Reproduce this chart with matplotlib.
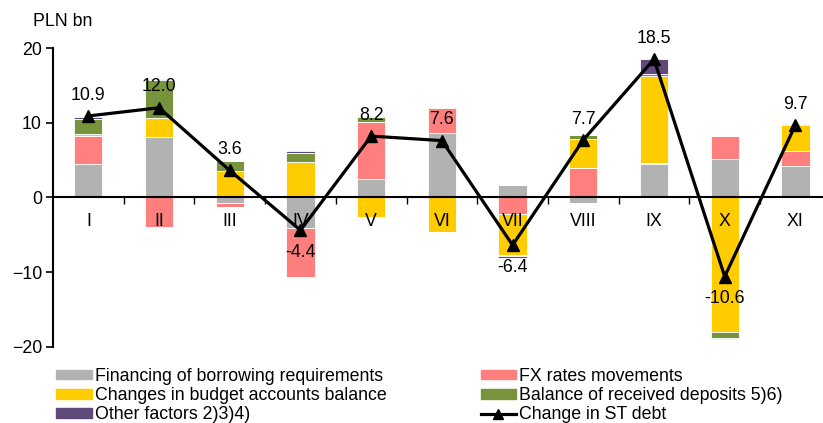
import matplotlib
matplotlib.use("Agg")
import matplotlib.pyplot as plt
import numpy as np
from matplotlib.patches import Patch
from matplotlib.lines import Line2D

plt.rcParams['font.family'] = ['Liberation Sans', 'DejaVu Sans']

months = ["I", "II", "III", "IV", "V", "VI", "VII", "VIII", "IX", "X", "XI"]
financing = [4.45, 8.06, -0.75, -4.04, 2.43, 8.59, 1.67, -0.78, 4.48, 5.11, 4.22]
fx = [3.78, -3.95, -0.55, -6.65, 7.72, 3.35, -2.25, 3.91, 0.10, 3.12, 2.05]
budget = [0.23, 2.62, 3.55, 4.71, -2.65, -4.58, -5.45, 3.88, 11.69, -17.97, 3.39]
deposits = [2.05, 5.05, 1.34, 1.25, 0.58, 0.10, -0.15, 0.58, 0.25, -0.88, 0.05]
other = [0.30, 0.13, 0.00, 0.22, 0.10, 0.05, -0.30, 0.00, 2.00, -0.10, 0.08]
change_st = [10.9, 12.0, 3.6, -4.4, 8.2, 7.6, -6.4, 7.7, 18.5, -10.6, 9.7]

series = [
    ("Financing of borrowing requirements", financing, "#B2B2B2"),
    ("FX rates movements", fx, "#FF7F7F"),
    ("Changes in budget accounts balance", budget, "#FFCC00"),
    ("Balance of received deposits 5)6)", deposits, "#77933C"),
    ("Other factors 2)3)4)", other, "#604A7B"),
]

FS = 12.8

fig = plt.figure(figsize=(8.23, 4.23), dpi=100)
ax = fig.add_axes([53/823, 1-346.7/423, (823-53)/823, (346.7-48)/423])

x = np.arange(len(months))
pos_base = np.zeros(len(months))
neg_base = np.zeros(len(months))
for name, vals, col in series:
    v = np.array(vals)
    pos = np.where(v > 0, v, 0)
    neg = np.where(v < 0, v, 0)
    ax.bar(x, pos, 0.40, bottom=pos_base, color=col, edgecolor="white", linewidth=0.6, zorder=2)
    ax.bar(x, neg, 0.40, bottom=neg_base, color=col, edgecolor="white", linewidth=0.6, zorder=2)
    pos_base += pos
    neg_base += neg

ax.plot(x, change_st, color="black", lw=2.3, marker="^", markersize=8, zorder=4)
for xi, v in zip(x, change_st):
    off = 15 if v > 0 else -16
    ax.annotate(f"{v:.1f}", (xi, v), xytext=(0, off), textcoords="offset points",
                ha="center", va="center", fontsize=FS, zorder=5)

ax.set_xlim(-0.5, 10.39)
ax.set_ylim(-20, 20)
ax.set_yticks([-20, -10, 0, 10, 20])
ax.tick_params(axis="y", labelsize=FS, length=5, width=1.2, pad=3)
ax.spines["top"].set_visible(False)
ax.spines["right"].set_visible(False)
ax.spines["left"].set_linewidth(1.5)
ax.spines["bottom"].set_position(("data", 0))
ax.spines["bottom"].set_linewidth(1.5)
ax.spines["bottom"].set_zorder(3)
ax.set_xticks(np.arange(0.5, 10.5, 1))
ax.set_xticklabels([])
ax.tick_params(axis="x", which="major", length=5, width=1.0, direction="out")
ax.set_xticks(x, minor=True)
ax.set_xticklabels(months, minor=True)
ax.tick_params(axis="x", which="minor", length=0, pad=11, labelsize=FS)
ax.xaxis.set_zorder(3.5)

fig.text(33/823, 1-22/423, "PLN bn", fontsize=FS, va="center", ha="left")

handles = [
    Patch(color=series[0][2]), Patch(color=series[2][2]), Patch(color=series[4][2]),
    Patch(color=series[1][2]), Patch(color=series[3][2]),
    Line2D([0], [0], color="black", lw=2.3, marker="^", markersize=7),
]
labels = [series[0][0], series[2][0], series[4][0], series[1][0], series[3][0], "Change in ST debt"]
fig.legend(handles, labels, ncol=2, loc="upper left", bbox_to_anchor=(56/823, 1-368/423),
           frameon=False, fontsize=FS, handlelength=2.0, handleheight=0.45, handletextpad=0.17,
           labelspacing=0.12, columnspacing=5.3, borderaxespad=0, borderpad=0)

fig.savefig("out.png", dpi=100)
